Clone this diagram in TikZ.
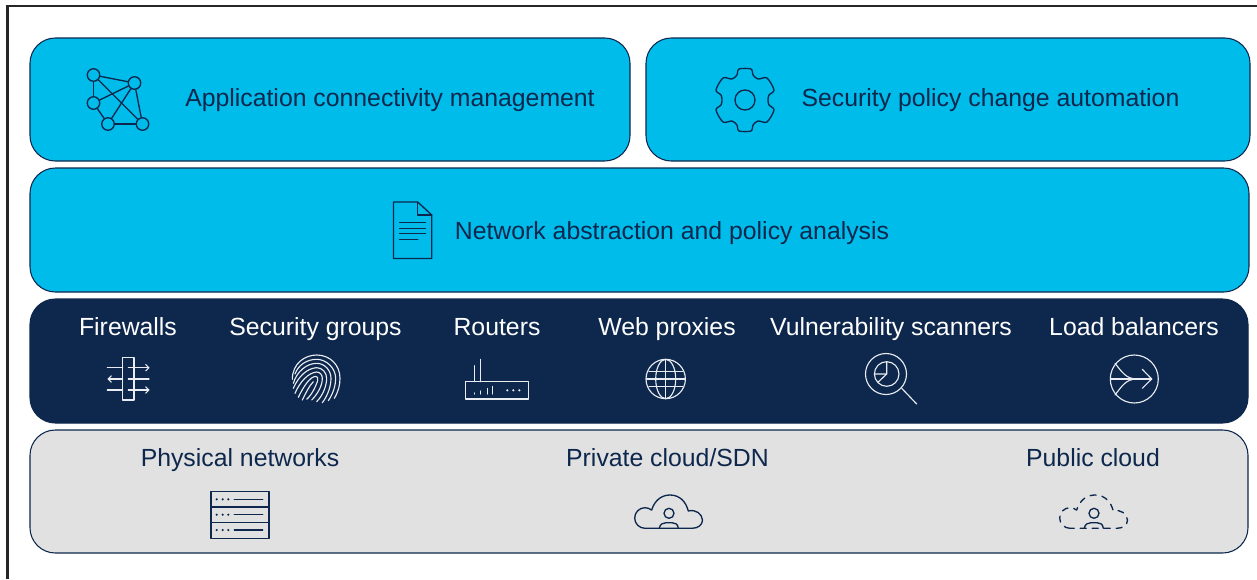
\documentclass[tikz,border=0pt]{standalone}
\usepackage{fontspec}
\setmainfont{Liberation Sans}
\usetikzlibrary{arrows.meta}
\definecolor{cblue}{HTML}{00BCEB}
\definecolor{cnavy}{HTML}{0D274D}
\definecolor{cgrey}{HTML}{E1E1E1}
\definecolor{clight}{HTML}{E9ECF0}
\tikzset{
  panel/.style={draw=cnavy,line width=0.8pt,rounded corners=19pt,inner sep=0pt},
  dk/.style={draw=cnavy,line width=1pt,line cap=round,line join=round},
  lt/.style={draw=clight,line width=0.85pt,line cap=round,line join=round},
  lbl/.style={anchor=base,inner sep=0pt,font=\fontsize{18.6}{22}\selectfont},
  lbldark/.style={lbl,text=cnavy},
  lbllight/.style={lbl,text=white},
}
\begin{document}
\begin{tikzpicture}[x=0.75pt,y=-0.75pt]
\useasboundingbox (0,0) rectangle (1257,579);
\draw[color=black!85,line width=1.9pt] (7.5,579) -- (7.5,6) -- (1257,6);
% panels
\node[panel,fill=cblue,minimum width=600*0.75pt,minimum height=123*0.75pt] (conn) at (330,99.5) {};
\node[panel,fill=cblue,minimum width=604*0.75pt,minimum height=123*0.75pt] (auto) at (948,99.5) {};
\node[panel,fill=cblue,minimum width=1219*0.75pt,minimum height=124*0.75pt] (abst) at (639.5,230) {};
\node[panel,fill=cnavy,minimum width=1218*0.75pt,minimum height=124*0.75pt] (dev) at (639,361) {};
\node[panel,fill=cgrey,minimum width=1218*0.75pt,minimum height=123*0.75pt] (infra) at (639,491.5) {};
% text
\node[lbldark] (t1) at (390,106.5) {Application connectivity management};
\node[lbldark] (t2) at (990.5,106.5) {Security policy change automation};
\node[lbldark] (t3) at (672,239.5) {Network abstraction and policy analysis};
\node[lbllight] (d1) at (128,335.5) {Firewalls};
\node[lbllight] (d2) at (315.5,335.5) {Security groups};
\node[lbllight] (d3) at (497,335.5) {Routers};
\node[lbllight] (d4) at (667,335.5) {Web proxies};
\node[lbllight] (d5) at (891,335.5) {Vulnerability scanners};
\node[lbllight] (d6) at (1134,335.5) {Load balancers};
\node[lbldark] (i1) at (240,466.5) {Physical networks};
\node[lbldark] (i2) at (667.5,466.5) {Private cloud/SDN};
\node[lbldark] (i3) at (1093,466.5) {Public cloud};
% network icon
\foreach \n/\x/\y in {a/93.5/75,b/134.5/83,c/93.5/103,d/108/124,e/142.5/124}
  \node[dk,circle,minimum size=12.5*0.75pt,inner sep=0pt] (\n) at (\x,\y) {};
\foreach \p/\q in {a/b,a/c,a/e,b/c,b/d,b/e,c/d,d/e}
  \draw[dk] (\p) -- (\q);
% gear
\begin{scope}[shift={(745,100)}]
\draw[dk] plot[smooth cycle,tension=0.5] coordinates {
 (6,-31)(8,-25)(13,-21)(22,-22)(29,-10)(24,-5)(23,0)(24,5)(29,10)(22,22)(13,21)(8,25)(6,31)
 (-6,31)(-8,25)(-13,21)(-22,22)(-29,10)(-24,5)(-23,0)(-24,-5)(-29,-10)(-22,-22)(-13,-21)(-8,-25)(-6,-31)};
\draw[dk] (0,0) circle[radius=10*0.75pt];
\end{scope}
% document
\draw[dk] (393.5,202) -- (417.7,202) -- (431.7,215) -- (431.7,258.5) -- (393.5,258.5) -- cycle;
\draw[dk] (417.7,202) -- (417.7,215) -- (431.7,215);
\draw[dk] (399.5,222.7) -- (425.5,222.7) (399.5,228.3) -- (425.5,228.3) (399.5,233.7) -- (425.5,233.7) (399.5,239.7) -- (417.7,239.7);
% firewall
\draw[lt] (122.7,357.7) rectangle (134,400);
\draw[lt] (107.3,367.7) -- (122.7,367.7) (107.3,390) -- (122.7,390);
\draw[lt] (128.3,379) -- (149,379);
\draw[lt,-{Straight Barb[length=2.5pt,width=5pt]}] (128.3,367.7) -- (149.7,367.7);
\draw[lt,-{Straight Barb[length=2.5pt,width=5pt]}] (128.3,390) -- (149.7,390);
\draw[lt,-{Straight Barb[length=2.5pt,width=5pt]}] (122.7,379) -- (107.3,379);
% fingerprint
\begin{scope}[shift={(285,350)},x=0.25pt,y=-0.25pt]
\draw[lt] (22,88) .. controls (22,40) and (60,15) .. (95,15) .. controls (135,15) and (165,45) .. (165,85) .. controls (165,105) and (160,125) .. (148,145);
\draw[lt] (30,72) .. controls (40,45) and (65,28) .. (95,28) .. controls (125,28) and (152,55) .. (152,85) .. controls (152,105) and (145,130) .. (130,152);
\draw[lt] (25,100) .. controls (35,65) and (65,40) .. (95,40) .. controls (120,40) and (138,62) .. (138,85) .. controls (138,105) and (130,135) .. (112,158);
\draw[lt] (25,115) .. controls (40,80) and (65,55) .. (95,53) .. controls (112,53) and (125,68) .. (125,85) .. controls (125,105) and (115,135) .. (95,155);
\draw[lt] (30,130) .. controls (45,95) and (70,68) .. (95,66) .. controls (105,66) and (112,75) .. (112,85) .. controls (112,105) and (100,130) .. (80,150);
\draw[lt] (40,142) .. controls (55,110) and (75,80) .. (92,79) .. controls (98,79) and (100,84) .. (98,92) .. controls (92,110) and (80,135) .. (65,148);
\draw[lt] (52,150) .. controls (62,130) and (72,108) .. (85,95);
\end{scope}
% router
\draw[lt] (465.7,381.7) rectangle (528.3,399);
\draw[lt] (474.3,365.7) -- (474.3,381.7) (480.7,359.3) -- (480.7,381.7);
\draw[lt] (474.3,393) -- (474.3,394) (480.7,391) -- (480.7,394) (487.7,388.5) -- (487.7,394) (492.7,386.5) -- (492.7,394);
\foreach \x in {507.3,513.3,519.3} \fill[clight] (\x,390.3) circle[radius=0.9pt];
% globe
\draw[lt] (665.7,379) circle[radius=19.7*0.75pt];
\draw[lt] (665.7,379) ellipse[x radius=10*0.75pt,y radius=19.7*0.75pt];
\draw[lt] (665.7,359.3) -- (665.7,398.7);
\draw[lt] (646.5,379) -- (685,379) (649,371.7) -- (682.5,371.7) (649,386.7) -- (682.5,386.7);
% magnifier
\draw[lt] (886,374) circle[radius=20.5*0.75pt];
\draw[lt] (886.7,374) circle[radius=12.3*0.75pt];
\draw[lt] (886.7,361.7) -- (886.7,374) -- (874.4,374) (886.7,374) -- (877.7,382.5);
\draw[lt] (901.7,388.3) -- (916.7,404);
% load balancer
\draw[lt] (1134.3,379) circle[radius=24*0.75pt];
\draw[lt] (1110.5,379) -- (1151.7,379);
\draw[lt] (1142.3,369.3) -- (1151.7,379) -- (1142.3,388.3);
\draw[lt] (1115,363.3) .. controls (1122,372) and (1126,379) .. (1137,379);
\draw[lt] (1115,395) .. controls (1122,386) and (1126,379) .. (1137,379);
% servers
\draw[dk] (211,491.7) rectangle (269,538.3);
\draw[dk] (211,507) -- (269,507) (211,522.7) -- (269,522.7);
\foreach \y in {499.3,514.7,530}{
  \foreach \x in {216.7,222.7,228.3} \fill[cnavy] (\x,\y) circle[radius=0.9pt];
  \draw[dk] (234.3,\y) -- (262.7,\y);
}
% private cloud
\draw[dk] (645,528.3) arc[start angle=270,end angle=50,radius=10.3*0.75pt]
  .. controls (655,499) and (663,495) .. (670,495) .. controls (680,495) and (686,502) .. (688.3,511)
  .. controls (696,509) and (702,514) .. (702.5,520) .. controls (702.5,525) and (698,528.3) .. (692,528.3) -- cycle;
\draw[dk] (669,513.3) circle[radius=5*0.75pt];
\draw[dk] (659.3,528.3) .. controls (660,524) and (663,522.7) .. (666,522.7) -- (672,522.7) .. controls (675,522.7) and (678,524) .. (678.3,528.3);
% public cloud
\draw[dk,dash pattern=on 4.5pt off 4.5pt] (1070,528.3) arc[start angle=270,end angle=50,radius=10.3*0.75pt]
  .. controls (1080,499) and (1088,495) .. (1095,495) .. controls (1105,495) and (1111,502) .. (1113.3,511)
  .. controls (1121,509) and (1127,514) .. (1127.5,520) .. controls (1127.5,525) and (1123,528.3) .. (1117,528.3) -- cycle;
\draw[dk] (1094,513.3) circle[radius=5*0.75pt];
\draw[dk] (1084.3,528.3) .. controls (1085,524) and (1088,522.7) .. (1091,522.7) -- (1097,522.7) .. controls (1100,522.7) and (1103,524) .. (1103.3,528.3);
\end{tikzpicture}
\end{document}
